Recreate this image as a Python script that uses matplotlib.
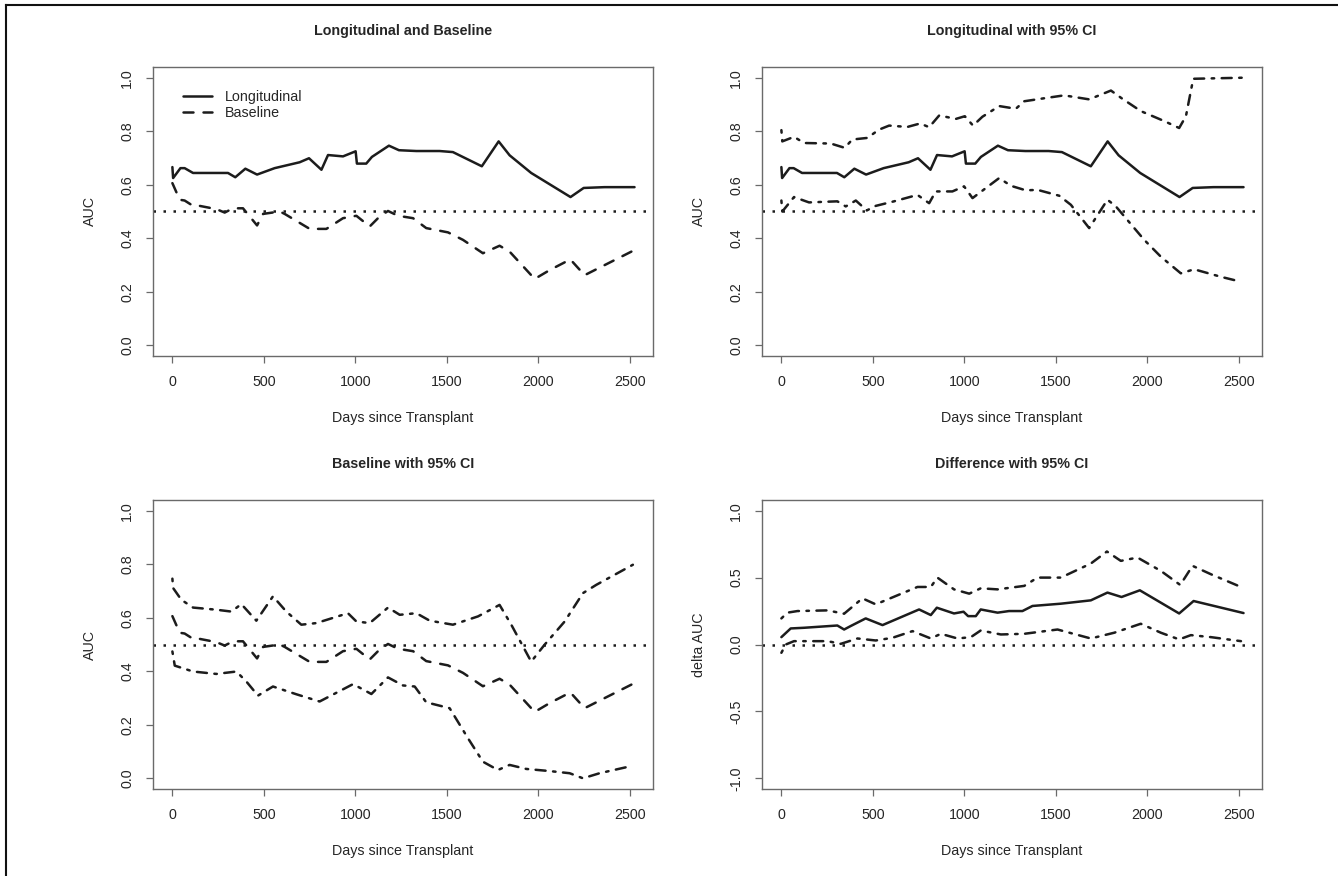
import matplotlib
matplotlib.use("Agg")
import matplotlib.pyplot as plt
from matplotlib.lines import Line2D

plt.rcParams['font.family'] = ['Liberation Sans', 'DejaVu Sans']
plt.rcParams['axes.unicode_minus'] = False

# ---------------- data ----------------
long_x = [0, 4, 44, 67, 113, 304, 344, 399, 463, 559, 696, 747, 815, 851, 933,
          1002, 1009, 1060, 1091, 1184, 1239, 1334, 1461, 1534, 1692, 1784, 1844,
          1962, 2177, 2249, 2363, 2527]
long_auc = [0.666, 0.625, 0.662, 0.662, 0.644, 0.644, 0.628, 0.660, 0.638, 0.662,
            0.684, 0.699, 0.656, 0.711, 0.706, 0.725, 0.679, 0.679, 0.704, 0.746,
            0.729, 0.726, 0.726, 0.722, 0.669, 0.762, 0.710, 0.644, 0.554, 0.588,
            0.591, 0.591]

base_x = [0, 40, 67, 113, 149, 240, 286, 332, 386, 463, 496, 587, 614, 751, 842,
          933, 1006, 1079, 1133, 1179, 1234, 1316, 1388, 1507, 1589, 1698, 1789,
          1844, 1981, 2063, 2176, 2254, 2527]
base_auc = [0.606, 0.544, 0.541, 0.521, 0.521, 0.509, 0.496, 0.512, 0.512, 0.448,
            0.491, 0.500, 0.491, 0.435, 0.435, 0.475, 0.484, 0.444, 0.481, 0.502,
            0.484, 0.475, 0.438, 0.422, 0.394, 0.344, 0.372, 0.350, 0.248, 0.281,
            0.321, 0.262, 0.356]

long_up_x = [0, 5, 69, 124, 270, 346, 388, 470, 534, 589, 689, 759, 808, 863, 954,
             1003, 1048, 1099, 1191, 1282, 1328, 1455, 1546, 1683, 1802, 1865, 1966,
             2093, 2175, 2212, 2252, 2527]
long_up = [0.804, 0.762, 0.779, 0.756, 0.754, 0.738, 0.769, 0.775, 0.806, 0.821,
           0.816, 0.829, 0.815, 0.859, 0.846, 0.856, 0.821, 0.854, 0.894, 0.884,
           0.912, 0.925, 0.934, 0.919, 0.952, 0.921, 0.875, 0.838, 0.812, 0.856,
           0.996, 1.000]

long_lo_x = [0, 5, 69, 151, 306, 352, 407, 467, 516, 616, 744, 808, 844, 935, 999,
             1045, 1191, 1255, 1337, 1400, 1519, 1583, 1683, 1783, 1829, 1984, 2075,
             2184, 2257, 2403, 2510]
long_lo = [0.541, 0.500, 0.554, 0.534, 0.538, 0.519, 0.541, 0.504, 0.521, 0.538,
           0.562, 0.531, 0.575, 0.575, 0.594, 0.550, 0.625, 0.596, 0.579, 0.581,
           0.559, 0.525, 0.438, 0.544, 0.519, 0.394, 0.331, 0.269, 0.284, 0.256,
           0.238]

base_up_x = [0, 4, 49, 113, 240, 323, 377, 459, 550, 623, 705, 787, 960, 1006, 1079,
             1179, 1243, 1334, 1407, 1534, 1671, 1789, 1853, 1962, 2035, 2145, 2245,
             2318, 2518]
base_up = [0.746, 0.711, 0.667, 0.638, 0.630, 0.623, 0.651, 0.589, 0.680, 0.623,
           0.574, 0.580, 0.617, 0.586, 0.580, 0.638, 0.611, 0.617, 0.589, 0.574,
           0.605, 0.648, 0.574, 0.436, 0.499, 0.586, 0.692, 0.723, 0.798]

base_lo_x = [0, 13, 113, 240, 350, 404, 468, 550, 678, 805, 988, 1088, 1179, 1261,
             1325, 1388, 1516, 1616, 1698, 1780, 1844, 1935, 2063, 2172, 2245, 2336,
             2518]
base_lo = [0.474, 0.421, 0.399, 0.390, 0.399, 0.362, 0.309, 0.343, 0.314, 0.287,
           0.352, 0.315, 0.377, 0.347, 0.343, 0.284, 0.262, 0.150, 0.062, 0.031,
           0.050, 0.035, 0.027, 0.019, 0.000, 0.019, 0.047]

diff_x = [0, 51, 124, 306, 343, 379, 461, 553, 753, 817, 850, 944, 996, 1021, 1063,
          1090, 1182, 1245, 1318, 1373, 1528, 1692, 1783, 1860, 1960, 2175, 2254,
          2527]
diff_auc = [0.055, 0.120, 0.125, 0.142, 0.112, 0.138, 0.195, 0.145, 0.262, 0.220,
            0.275, 0.232, 0.245, 0.212, 0.212, 0.262, 0.238, 0.250, 0.250, 0.288,
            0.305, 0.330, 0.388, 0.355, 0.405, 0.232, 0.325, 0.235]

diff_up_x = [0, 33, 88, 252, 343, 443, 516, 744, 817, 853, 944, 1027, 1090, 1182,
             1328, 1400, 1528, 1692, 1780, 1856, 1947, 2075, 2181, 2248, 2349, 2513]
diff_up = [0.195, 0.238, 0.250, 0.255, 0.230, 0.345, 0.300, 0.430, 0.430, 0.500,
           0.412, 0.380, 0.420, 0.412, 0.438, 0.500, 0.500, 0.605, 0.695, 0.625,
           0.650, 0.550, 0.445, 0.588, 0.525, 0.430]

diff_lo_x = [0, 24, 69, 252, 325, 416, 516, 607, 717, 817, 872, 963, 1036, 1090,
             1200, 1328, 1510, 1692, 1820, 1965, 2075, 2175, 2239, 2349, 2513]
diff_lo = [-0.062, 0.000, 0.025, 0.025, 0.005, 0.045, 0.030, 0.050, 0.100, 0.045,
           0.080, 0.045, 0.055, 0.105, 0.075, 0.080, 0.112, 0.045, 0.088, 0.155,
           0.088, 0.038, 0.070, 0.055, 0.025]

titles = ["Longitudinal and Baseline", "Longitudinal with 95% CI",
          "Baseline with 95% CI", "Difference with 95% CI"]
xlabel = "Days since Transplant"
ylabels = ["AUC", "AUC", "AUC", "delta AUC"]
xticks = [0, 500, 1000, 1500, 2000, 2500]
auc_ticks = [0.0, 0.2, 0.4, 0.6, 0.8, 1.0]
diff_ticks = [-1.0, -0.5, 0.0, 0.5, 1.0]
legend_labels = ["Longitudinal", "Baseline"]

# ---------------- style ----------------
W, H = 1338, 876
fig = plt.figure(figsize=(W / 100, H / 100), dpi=100)
LINE = '#1c1c1c'
GREY = '#6a6a6a'
TXT = '#262626'
LW = 1.8
FS = 10.3
SOLID = dict(color=LINE, lw=LW, solid_capstyle='round', solid_joinstyle='round')
DASH = dict(color=LINE, lw=LW, dashes=(4, 4), dash_capstyle='round', dash_joinstyle='round')
DOT = dict(color=LINE, lw=LW, dashes=(1, 3), dash_capstyle='butt')
DASHDOT = dict(color=LINE, lw=LW, dashes=(1, 3, 4, 3), dash_capstyle='round', dash_joinstyle='round')

# axes rectangles in pixels (left, top, right, bottom)
rects = [(153, 67, 653, 356), (762, 67, 1262, 356),
         (153, 500, 653, 789), (762, 500, 1262, 789)]
axes = []
for (l, t, r, b) in rects:
    ax = fig.add_axes([l / W, 1 - b / H, (r - l) / W, (b - t) / H])
    axes.append(ax)


def style(ax, title, ylab, yticks, ylim, fmt):
    ax.set_xlim(-106, 2628)
    ax.set_ylim(*ylim)
    ax.set_xticks(xticks)
    ax.set_xticklabels([str(v) for v in xticks])
    ax.set_yticks(yticks)
    ax.set_yticklabels([fmt.format(v) for v in yticks])
    for lab in ax.get_yticklabels():
        lab.set_rotation(90)
        lab.set_va('center')
    ax.tick_params(direction='out', length=5, width=0.9, colors=GREY,
                   labelcolor=TXT, labelsize=FS)
    ax.tick_params(axis='x', pad=8.5)
    ax.tick_params(axis='y', pad=8.5)
    for s in ax.spines.values():
        s.set_color(GREY)
        s.set_linewidth(1.0)
    h = 289.0
    ax.text(0.5, 1 + 35.5 / h, title, transform=ax.transAxes, ha='center',
            va='center', fontsize=FS, fontweight='bold', color=TXT)
    ax.set_xlabel(xlabel, fontsize=FS, color=TXT, va='center')
    ax.xaxis.set_label_coords(0.5, -62 / h)
    ax.set_ylabel(ylab, fontsize=FS, color=TXT, va='center', ha='center')
    ax.yaxis.set_label_coords(-63 / 500, 0.5)


# Panel 1
ax = axes[0]
ax.plot(long_x, long_auc, **SOLID)
ax.plot(base_x, base_auc, **DASH)
ax.axhline(0.5, **DOT)
style(ax, titles[0], ylabels[0], auc_ticks, (-0.04, 1.04), "{:.1f}")
handles = [Line2D([], [], **SOLID), Line2D([], [], **DASH)]
leg = ax.legend(handles, legend_labels, loc='upper left', bbox_to_anchor=(0.06, 0.921),
                frameon=False, fontsize=FS, handlelength=2.0, handletextpad=0.9,
                labelspacing=0.15, borderpad=0, borderaxespad=0)
for t in leg.get_texts():
    t.set_color(TXT)

# Panel 2
ax = axes[1]
ax.plot(long_x, long_auc, **SOLID)
ax.plot(long_up_x, long_up, **DASHDOT)
ax.plot(long_lo_x, long_lo, **DASHDOT)
ax.axhline(0.5, **DOT)
style(ax, titles[1], ylabels[1], auc_ticks, (-0.04, 1.04), "{:.1f}")

# Panel 3
ax = axes[2]
ax.plot(base_x, base_auc, **DASH)
ax.plot(base_up_x, base_up, **DASHDOT)
ax.plot(base_lo_x, base_lo, **DASHDOT)
ax.axhline(0.5, **DOT)
style(ax, titles[2], ylabels[2], auc_ticks, (-0.04, 1.04), "{:.1f}")

# Panel 4
ax = axes[3]
ax.plot(diff_x, diff_auc, **SOLID)
ax.plot(diff_up_x, diff_up, **DASHDOT)
ax.plot(diff_lo_x, diff_lo, **DASHDOT)
ax.axhline(0.0, **DOT)
style(ax, titles[3], ylabels[3], diff_ticks, (-1.08, 1.08), "{:.1f}")

# figure border (top and left edges)
fig.add_artist(Line2D([6 / W, 1], [1 - 5 / H, 1 - 5 / H], color='#111', lw=1.5,
                      transform=fig.transFigure))
fig.add_artist(Line2D([6 / W, 6 / W], [0, 1 - 5 / H], color='#111', lw=1.5,
                      transform=fig.transFigure))

fig.savefig("out.png", dpi=100, facecolor='white')
